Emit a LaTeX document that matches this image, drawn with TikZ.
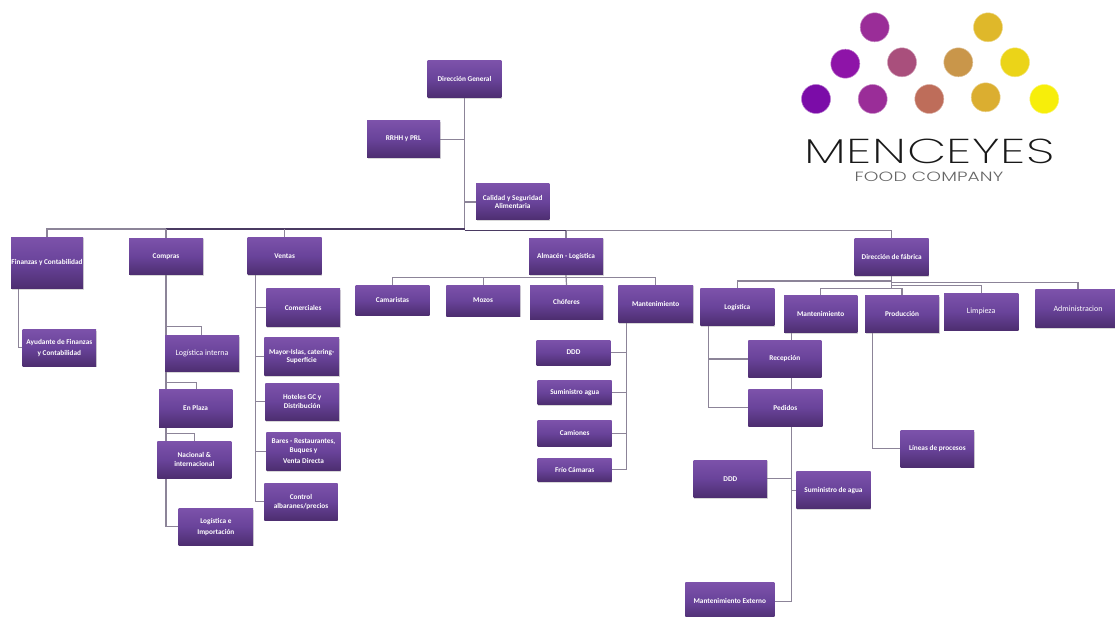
\documentclass[tikz,border=0pt]{standalone}
\usepackage{fontspec}
\setmainfont{Carlito}
\newfontfamily\logofont[FakeStretch=1.48,LetterSpace=1.5]{Poppins ExtraLight}
\newfontfamily\logosubfont[FakeStretch=1.39,LetterSpace=1]{Poppins Light}
\usetikzlibrary{backgrounds,shadows}
\definecolor{boxtop}{HTML}{7C52AA}
\definecolor{boxmid}{HTML}{69439A}
\definecolor{boxbot}{HTML}{4D2E70}
\definecolor{linkc}{HTML}{8C8498}
\definecolor{busc}{HTML}{4A3A62}
\tikzset{
  box/.style={rectangle,inner sep=0pt,align=center,text=white,
    top color=boxtop,bottom color=boxbot,middle color=boxmid,
    drop shadow={shadow xshift=0.6pt,shadow yshift=-1.2pt,opacity=.3,fill=black!50},
    font=\fontsize{7.3}{8.9}\selectfont\bfseries},
  plain/.style={font=\fontsize{8}{9.6}\selectfont},
  link/.style={draw=linkc,line width=1.2pt},
  buslink/.style={draw=busc,line width=1.3pt},
  dot/.style={circle,minimum size=29pt,inner sep=0pt,draw=#1!55!white,line width=.5pt,fill=#1},
  logoname/.style={text=black!90,inner sep=0pt,font=\logofont\fontsize{34.5}{36}\selectfont},
  logosub/.style={text=black!60,inner sep=0pt,font=\logosubfont\fontsize{13.4}{15}\selectfont}
}
\newcommand\bx[6][]{%
  \pgfmathsetmacro\cxx{(#3+#5)/2}\pgfmathsetmacro\cyy{(#4+#6)/2}%
  \pgfmathsetmacro\wdd{#5-#3}\pgfmathsetmacro\htt{#6-#4}%
  \node[box,minimum width=\wdd pt,minimum height=\htt pt,#1] (#2) at (\cxx,\cyy) {\BoxText};}
\definecolor{d1}{HTML}{7B0CA8}\definecolor{d2}{HTML}{8E14A8}\definecolor{d3}{HTML}{9A2D98}
\definecolor{d4}{HTML}{A94F7C}\definecolor{d5}{HTML}{BE6D5A}\definecolor{d6}{HTML}{C9964A}
\definecolor{d7}{HTML}{DBAE30}\definecolor{d8}{HTML}{DFB82A}\definecolor{d9}{HTML}{EBD418}
\definecolor{d10}{HTML}{F7EE0A}
\begin{document}
\begin{tikzpicture}[x=1pt,y=-1pt]
\useasboundingbox (0,0) rectangle (1115,617);
% top
\def\BoxText{Dirección General}\bx{dg}{427.7}{60.7}{501.3}{97.7}
\def\BoxText{RRHH y PRL}\bx{rh}{367}{120.7}{440}{157.7}
\def\BoxText{Calidad y Seguridad\\Alimentaria}\bx{cal}{476}{184}{549.3}{220}
% first level
\def\BoxText{Finanzas y Contabilidad}\bx{fin}{11}{237.3}{83}{288.7}
\def\BoxText{Compras}\bx{cmp}{129}{238.3}{203}{274.7}
\def\BoxText{Ventas}\bx{ven}{247.7}{237.3}{321.7}{274.7}
\def\BoxText{Almacén - Logística}\bx{alm}{529}{238.3}{603}{274.7}
\def\BoxText{Dirección de fábrica}\bx{df}{854.7}{238.3}{928.7}{275.7}
% finanzas, compras
\def\BoxText{Ayudante de Finanzas\\[2pt]y Contabilidad}\bx{ayu}{22.7}{329.3}{96}{366}
\def\BoxText{Logística interna}\bx[plain]{lgi}{165}{335.3}{239}{371.7}
\def\BoxText{En Plaza}\bx{epl}{159}{389.7}{232.3}{427}
\def\BoxText{Nacional \&\\internacional}\bx{nac}{157.3}{441.7}{231.3}{478}
\def\BoxText{Logística e\\[2pt]Importación}\bx{lim}{178.7}{508.3}{253}{545}
% ventas
\def\BoxText{Comerciales}\bx{com}{266.3}{289}{340}{326.3}
\def\BoxText{Mayor-Islas, catering-\\Superficie}\bx{may}{264.3}{337.7}{339}{375.3}
\def\BoxText{Hoteles GC y\\Distribución}\bx{hot}{265.3}{383}{339}{420.3}
\def\BoxText{Bares - Restaurantes,\\Buques y\\[2pt]Venta Directa}\bx{bar}{266.3}{432.7}{340.7}{470.3}
\def\BoxText{Control\\albaranes/precios}\bx{ctl}{264.3}{483.7}{337.7}{520}
% almacen
\def\BoxText{Camaristas}\bx{cam}{355.7}{285.3}{429.3}{315}
\def\BoxText{Mozos}\bx{moz}{446.3}{285.3}{520}{316}
\def\BoxText{Chóferes}\bx{cho}{530}{285.3}{603}{319}
\def\BoxText{Mantenimiento}\bx{man}{618.3}{285.3}{693}{322.3}
\def\BoxText{DDD}\bx{dda}{536.7}{340}{610.3}{365}
\def\BoxText{Suministro agua}\bx{sua}{537.7}{380.3}{611.7}{404.3}
\def\BoxText{Camiones}\bx{cmn}{537.7}{420.7}{611.7}{446}
\def\BoxText{Frío Cámaras}\bx{fri}{537.7}{458.3}{611.7}{481.3}
% fabrica
\def\BoxText{Logística}\bx{flo}{700.3}{289}{774.3}{325.3}
\def\BoxText{Mantenimiento}\bx{fma}{784}{295.7}{857.3}{332.7}
\def\BoxText{Producción}\bx{fpr}{865}{295.7}{939}{332.7}
\def\BoxText{Limpieza}\bx[plain]{fli}{944}{293.7}{1018.3}{330}
\def\BoxText{Administracion}\bx[plain]{fad}{1035.3}{290}{1120.7}{327.3}
\def\BoxText{Recepción}\bx{rec}{748.3}{340}{821.3}{377}
\def\BoxText{Pedidos}\bx{ped}{748.3}{389.7}{822.3}{426}
\def\BoxText{Líneas de procesos}\bx{lin}{900.7}{430.3}{974}{467}
\def\BoxText{DDD}\bx{ddb}{693.7}{460}{767}{497.3}
\def\BoxText{Suministro de agua}\bx{sub}{796.3}{471.7}{870.7}{508.7}
\def\BoxText{Mantenimiento Externo}\bx{mex}{685.3}{582.7}{774.3}{620}
% junction rails
\coordinate (bus) at (0,229);
\coordinate (busr) at (0,230.7);
\coordinate (rfin) at (18.3,0);
\coordinate (rcmp) at (166,0);
\coordinate (rlgi) at (0,326.7);
\coordinate (repl) at (0,382.3);
\coordinate (rnac) at (0,433.3);
\coordinate (xlgi) at (201.3,0);
\coordinate (xepl) at (196.3,0);
\coordinate (xnac) at (194.3,0);
\coordinate (rven) at (255.7,0);
\coordinate (ralm) at (0,277.3);
\coordinate (rman) at (626.3,0);
\coordinate (rflo) at (708.3,0);
\coordinate (rfma) at (791.3,0);
\coordinate (rfpr) at (872.7,0);
\coordinate (fa) at (0,281);
\coordinate (fb) at (0,282.7);
\coordinate (fc) at (0,285.7);
\coordinate (fd) at (0,288.7);
\coordinate (ydd) at (0,478.3);
\coordinate (yrec) at (0,359);
\begin{scope}[on background layer]
\fill[white] (0,0) rectangle (1115,617);
% direction
\draw[link] (dg.south) -- (dg.south |- bus);
\draw[link] (rh.east) -- (rh.east -| dg.south);
\draw[link] (cal.west) -- (cal.west -| dg.south);
\draw[link] (fin.north) |- (bus -| rcmp);
\draw[link] (dg.south |- busr) -| (df.north);
\draw[buslink] (bus -| rcmp) -- (dg.south |- bus);
\draw[buslink] (dg.south |- busr) -- (busr -| alm.north);
\draw[link] (cmp.north) -- (cmp.north |- bus);
\draw[link] (ven.north) -- (ven.north |- bus);
\draw[link] (alm.north) -- (alm.north |- busr);
% finanzas
\draw[link] (fin.south -| rfin) |- (ayu.west);
% compras
\draw[link] (cmp.south) |- (lim.west);
\draw[link] (rlgi -| cmp.south) -| (lgi.north -| xlgi);
\draw[link] (repl -| cmp.south) -| (epl.north -| xepl);
\draw[link] (rnac -| cmp.south) -| (nac.north -| xnac);
% ventas
\draw[link] (ven.south -| rven) |- (ctl.west);
\draw[link] (com.west) -- (com.west -| rven);
\draw[link] (may.west) -- (may.west -| rven);
\draw[link] (hot.west) -- (hot.west -| rven);
\draw[link] (bar.west) -- (bar.west -| rven);
% almacen
\draw[link] (alm.south) -- (cho.north);
\draw[link] (cam.north) |- (ralm -| alm.south);
\draw[link] (moz.north) -- (moz.north |- ralm);
\draw[link] (man.north) |- (ralm -| alm.south);
\draw[link] (man.south -| rman) |- (fri.east);
\draw[link] (dda.east) -- (dda.east -| rman);
\draw[link] (sua.east) -- (sua.east -| rman);
\draw[link] (cmn.east) -- (cmn.east -| rman);
% fabrica
\draw[link] (df.south) -- (df.south |- fd);
\draw[link] (flo.north) |- (fa -| df.south);
\draw[link] (fad.north) |- (fb -| df.south);
\draw[link] (fli.north) |- (fc -| df.south);
\draw[link] (fma.north) |- (fd -| fpr.north) -- (fpr.north);
\draw[link] (flo.south -| rflo) |- (ped.west);
\draw[link] (yrec -| rflo) -- (yrec -| rec.west);
\draw[link] (fma.south -| rfma) |- (mex.east);
\draw[link] (ddb.east |- ydd) -- (ydd -| rfma);
\draw[link] (sub.west) -- (sub.west -| rfma);
\draw[link] (fpr.south -| rfpr) |- (lin.west);
\end{scope}
% logo
\node[dot=d3] (a1) at (874.7,27.3) {};
\node[dot=d8] (a2) at (988,27.3) {};
\node[dot=d2] (b1) at (845.3,63.7) {};
\node[dot=d4] (b2) at (902,62.3) {};
\node[dot=d6] (b3) at (958.3,62.3) {};
\node[dot=d9] (b4) at (1015,62.3) {};
\node[dot=d1] (c1) at (816,99) {};
\node[dot=d3] (c2) at (872.7,99) {};
\node[dot=d5] (c3) at (929.3,99) {};
\node[dot=d7] (c4) at (985.7,97.3) {};
\node[dot=d10] (c5) at (1044.3,99) {};
\node[logoname] (mn) at (929.5,151.2) {MENCEYES};
\node[logosub] (fc2) at (929,177.3) {FOOD COMPANY};
\end{tikzpicture}
\end{document}
